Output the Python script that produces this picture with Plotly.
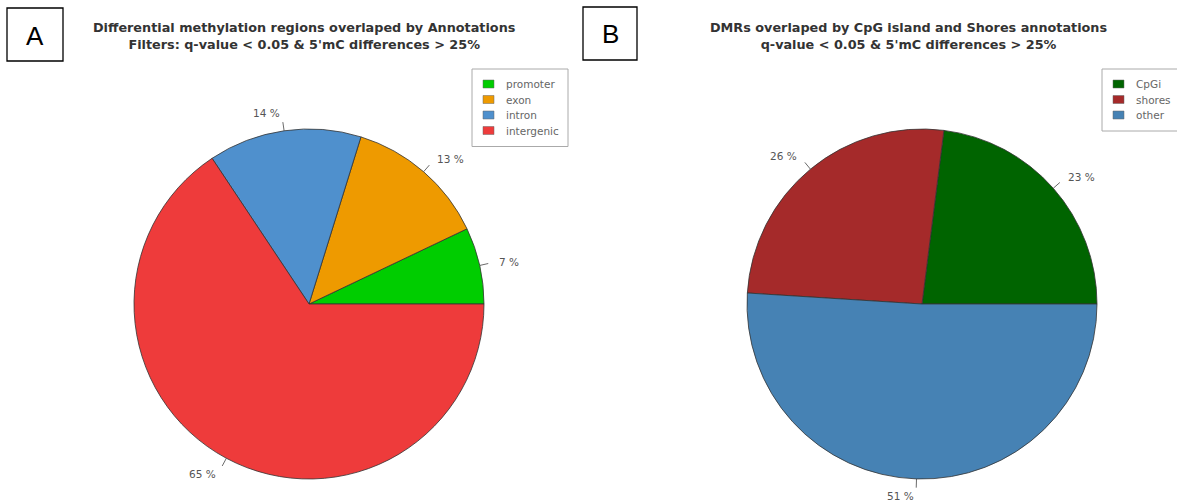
import math
import plotly.graph_objects as go

W, H = 1177, 502

# Panel A: DMRs by genomic annotation
ann_labels = ["promoter", "exon", "intron", "intergenic"]
ann_values = [7, 13, 14, 65]
ann_colors = ["#00CD00", "#EE9A00", "#4F90CD", "#EE3B3B"]

# Panel B: DMRs by CpG island / shores
cpg_labels = ["CpGi", "shores", "other"]
cpg_values = [23, 26, 51]
cpg_colors = ["#006400", "#A52A2A", "#4682B4"]

title_a = ("Differential methylation regions overlaped by Annotations<br>"
           "Filters: q-value < 0.05 & 5'mC differences > 25%")
title_b = ("DMRs overlaped by CpG island and Shores annotations<br>"
           "q-value < 0.05 & 5'mC differences > 25%")

FONT = "DejaVu Sans"
TEXT_GREY = "#555"

# pie geometry in pixels (centre x, centre y from top, radius)
PIE_A = (309, 304, 175)
PIE_B = (922, 304, 175)
# legend boxes (left, top, right) in pixels
LEG_A = (472, 69, 568)
LEG_B = (1102, 69, 1192)


def px(x):
    return x / W


def py(y):
    return 1 - y / H


def domain(pie):
    cx, cy, r = pie
    return dict(x=[px(cx - r), px(cx + r)], y=[py(cy + r), py(cy - r)])


def start_rotation(values):
    # plotly puts the END of the first slice at `rotation` when going counter-clockwise;
    # shift so the first slice starts at 3 o'clock
    return 90 - 360 * values[0] / sum(values)


def pie_labels(values, pie):
    """Percent labels and short ticks outside each slice (counter-clockwise from 3 o'clock)."""
    cx, cy, r = pie
    total = sum(values)
    annots, shapes = [], []
    cum = 0.0
    for v in values:
        mid = 2 * math.pi * (cum + v / 2) / total
        cum += v
        c, s = math.cos(mid), math.sin(mid)
        shapes.append(dict(type="line", xref="paper", yref="paper",
                           x0=px(cx + r * c), y0=py(cy - r * s),
                           x1=px(cx + 1.05 * r * c), y1=py(cy - 1.05 * r * s),
                           line=dict(color="#444", width=0.8)))
        annots.append(dict(xref="paper", yref="paper",
                           x=px(cx + 1.1 * r * c), y=py(cy - 1.1 * r * s),
                           text=f"{v} %", showarrow=False,
                           xanchor="left" if c >= 0 else "right", yanchor="middle",
                           font=dict(family=FONT, size=10.5, color=TEXT_GREY)))
    return annots, shapes


def legend_box(labels, colors, box, row_gap=15.5):
    left, top, right = box
    n = len(labels)
    bottom = top + 15 + (n - 1) * row_gap + 16
    shapes = [dict(type="rect", xref="paper", yref="paper",
                   x0=px(left), x1=px(right), y0=py(bottom), y1=py(top),
                   line=dict(color="#aaa", width=1), fillcolor="white", layer="above")]
    annots = []
    for i, (lab, col) in enumerate(zip(labels, colors)):
        yc = top + 15 + i * row_gap
        shapes.append(dict(type="rect", xref="paper", yref="paper",
                           x0=px(left + 11), x1=px(left + 22),
                           y0=py(yc + 4), y1=py(yc - 4),
                           line=dict(color="#666", width=0.5), fillcolor=col, layer="above"))
        annots.append(dict(xref="paper", yref="paper", x=px(left + 32), y=py(yc),
                           text=lab, showarrow=False, xanchor="left", yanchor="middle",
                           font=dict(family=FONT, size=10.5, color="#666")))
    return annots, shapes


fig = go.Figure()
for labels, values, colors, pie in ((ann_labels, ann_values, ann_colors, PIE_A),
                                     (cpg_labels, cpg_values, cpg_colors, PIE_B)):
    fig.add_trace(go.Pie(labels=labels, values=values, sort=False,
                         direction="counterclockwise", rotation=start_rotation(values),
                         marker=dict(colors=colors, line=dict(color="#333", width=0.8)),
                         textinfo="none", hoverinfo="label+percent",
                         domain=domain(pie), showlegend=False))

annotations, shapes = [], []
for vals, pie in ((ann_values, PIE_A), (cpg_values, PIE_B)):
    a, s = pie_labels(vals, pie)
    annotations += a
    shapes += s

for labels, colors, box in ((ann_labels, ann_colors, LEG_A), (cpg_labels, cpg_colors, LEG_B)):
    a, s = legend_box(labels, colors, box)
    annotations += a
    shapes += s

title_font = dict(family=FONT, size=12.8, color="#333")
for text, xc in ((title_a, 304), (title_b, 908)):
    annotations.append(dict(xref="paper", yref="paper", x=px(xc), y=py(35.5), text=f"<b>{text}</b>",
                            showarrow=False, xanchor="center", yanchor="middle", font=title_font))

# panel letters in boxes
for letter, (x0, y0, x1, y1) in (("A", (7, 8, 63, 61)), ("B", (583, 7, 637, 60))):
    shapes.append(dict(type="rect", xref="paper", yref="paper",
                       x0=px(x0), y0=py(y1), x1=px(x1), y1=py(y0),
                       line=dict(color="black", width=1.3)))
    annotations.append(dict(xref="paper", yref="paper", x=px((x0 + x1) / 2), y=py((y0 + y1) / 2 + 1),
                            text=letter, showarrow=False, xanchor="center", yanchor="middle",
                            font=dict(family="Liberation Sans", size=26, color="black")))

fig.update_layout(
    width=W, height=H,
    margin=dict(l=0, r=0, t=0, b=0),
    paper_bgcolor="white",
    plot_bgcolor="white",
    font=dict(family=FONT),
    annotations=annotations,
    shapes=shapes,
    showlegend=False,
)

fig.write_html("out.html")
